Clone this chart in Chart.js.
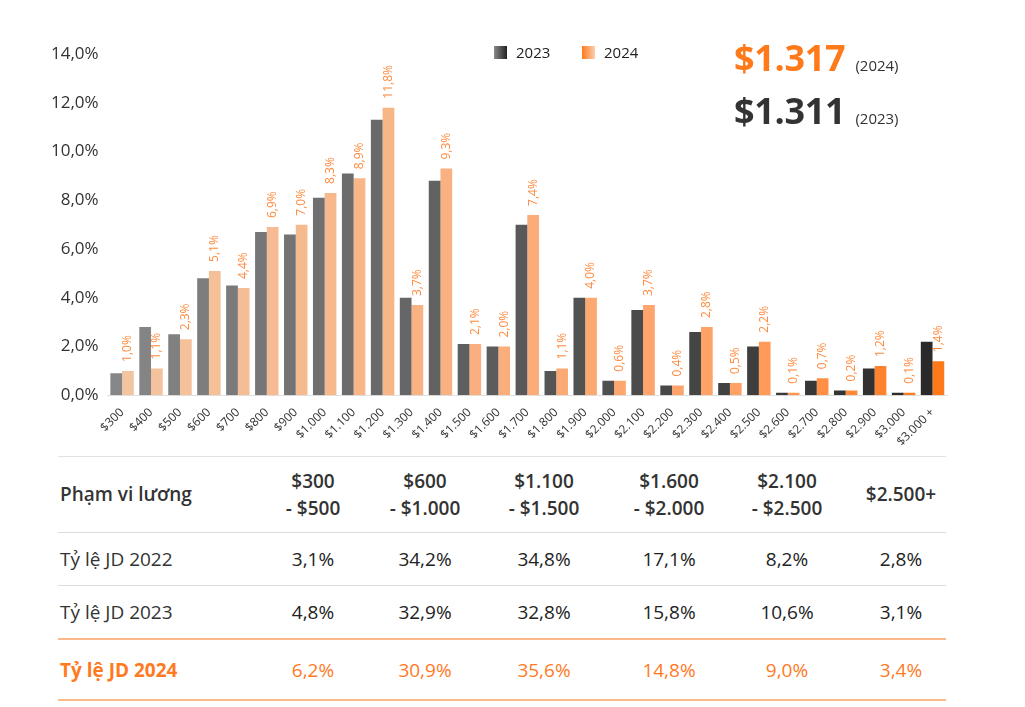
<!DOCTYPE html>
<html>
<head>
<meta charset="utf-8">
<script src="https://cdn.jsdelivr.net/npm/chart.js@4.4.1/dist/chart.umd.min.js"></script>
<style>
  body { margin: 0; background: #fff; font-family: "Open Sans", Roboto, sans-serif; }
  #wrap { position: relative; width: 1025px; height: 707px; overflow: hidden; }
  #chartBox { position: absolute; left: 0; top: 0; width: 1025px; height: 451px; }
  .legend { position: absolute; top: 42px; font-size: 15px; color: #222; display: flex; align-items: center; }
  .legend i { display: inline-block; width: 13px; height: 13px; margin-right: 9px; }
  .big { position: absolute; left: 734px; font-weight: 700; font-size: 36px; letter-spacing: -0.3px; }
  .big span { font-size: 15px; font-weight: 400; color: #333; margin-left: 10px; letter-spacing: 0; }
  table { position: absolute; left: 58px; top: 456px; width: 888px; border-collapse: collapse; font-size: 19px; color: #222; table-layout: fixed; }
  td, th { padding: 0; text-align: center; }
  th { font-weight: 600; height: 75px; border-top: 1px solid #e2e2e2; border-bottom: 1px solid #dcdcdc; line-height: 27px; color: #333; }
  th:first-child, td:first-child { text-align: left; padding-left: 2px; }
  th:last-child, td:last-child { padding-left: 14px; }
  tr.r td { height: 52px; border-bottom: 1px solid #dcdcdc; }
  tr.r td:first-child { color: #333; }
  tr.r2 td { border-bottom: 2px solid #fbb98a; }
  tr.hi td { height: 59px; color: #ff7a1f; border-bottom: 2px solid #fbb98a; }
  tr.hi td:first-child { font-weight: 700; }
</style>
</head>
<body>
<div id="wrap">
  <div id="chartBox"><canvas id="salary"></canvas></div>
  <div class="legend" style="left:494px"><i style="background:linear-gradient(90deg,#8a8a8a,#222)"></i>2023</div>
  <div class="legend" style="left:582px"><i style="background:linear-gradient(90deg,#ff7a1a,#fbd0b0)"></i>2024</div>
  <div class="big" style="top:33px;color:#ff7a1a">$1.317<span>(2024)</span></div>
  <div class="big" style="top:86px;color:#333">$1.311<span>(2023)</span></div>
  <table id="tbl">
    <colgroup><col style="width:200px"><col style="width:110px"><col style="width:114px"><col style="width:124px"><col style="width:126px"><col style="width:110px"><col style="width:104px"></colgroup>
  </table>
</div>
<script>
// Dữ liệu biểu đồ
const categories = ["$300", "$400", "$500", "$600", "$700", "$800", "$900", "$1.000", "$1.100", "$1.200",
  "$1.300", "$1.400", "$1.500", "$1.600", "$1.700", "$1.800", "$1.900", "$2.000", "$2.100", "$2.200",
  "$2.300", "$2.400", "$2.500", "$2.600", "$2.700", "$2.800", "$2.900", "$3.000", "$3.000 +"];
const jd2023 = [0.9, 2.8, 2.5, 4.8, 4.5, 6.7, 6.6, 8.1, 9.1, 11.3,
  4.0, 8.8, 2.1, 2.0, 7.0, 1.0, 4.0, 0.6, 3.5, 0.4,
  2.6, 0.5, 2.0, 0.1, 0.6, 0.2, 1.1, 0.1, 2.2];
const jd2024 = [1.0, 1.1, 2.3, 5.1, 4.4, 6.9, 7.0, 8.3, 8.9, 11.8,
  3.7, 9.3, 2.1, 2.0, 7.4, 1.1, 4.0, 0.6, 3.7, 0.4,
  2.8, 0.5, 2.2, 0.1, 0.7, 0.2, 1.2, 0.1, 1.4];
const yTicks = [0, 2, 4, 6, 8, 10, 12, 14];

// Bảng tổng hợp
const tableHeader = ["Phạm vi lương", "$300<br>- $500", "$600<br>- $1.000", "$1.100<br>- $1.500",
  "$1.600<br>- $2.000", "$2.100<br>- $2.500", "$2.500+"];
const rowLabels = ["Tỷ lệ JD 2022", "Tỷ lệ JD 2023", "Tỷ lệ JD 2024"];
const row2022 = ["3,1%", "34,2%", "34,8%", "17,1%", "8,2%", "2,8%"];
const row2023 = ["4,8%", "32,9%", "32,8%", "15,8%", "10,6%", "3,1%"];
const row2024 = ["6,2%", "30,9%", "35,6%", "14,8%", "9,0%", "3,4%"];

const tbl = document.getElementById("tbl");
let html = "<tr>" + tableHeader.map(h => "<th>" + h + "</th>").join("") + "</tr>";
[row2022, row2023, row2024].forEach((row, i) => {
  const cls = i === 2 ? "hi" : (i === 1 ? "r r2" : "r");
  html += '<tr class="' + cls + '"><td>' + rowLabels[i] + "</td>" + row.map(v => "<td>" + v + "</td>").join("") + "</tr>";
});
tbl.insertAdjacentHTML("beforeend", html);

// Màu chuyển dần từ trái sang phải
function mix(a, b, t) {
  const r = Math.round(a[0] + (b[0] - a[0]) * t);
  const g = Math.round(a[1] + (b[1] - a[1]) * t);
  const bl = Math.round(a[2] + (b[2] - a[2]) * t);
  return "rgb(" + r + "," + g + "," + bl + ")";
}
const n = categories.length;
const colors2023 = categories.map((c, i) => mix([135, 135, 135], [42, 42, 42], i / (n - 1)));
const colors2024 = categories.map((c, i) => {
  const t = i / (n - 1);
  return t < 0.75 ? mix([243, 196, 160], [255, 160, 100], t / 0.75) : mix([255, 160, 100], [255, 120, 25], (t - 0.75) / 0.25);
});

const fmt = v => v.toFixed(1).replace(".", ",") + "%";

// Nhãn dữ liệu xoay dọc cho 2024
const barLabels = {
  id: "barLabels",
  afterDatasetsDraw(chart) {
    const ctx = chart.ctx;
    const meta = chart.getDatasetMeta(1);
    ctx.save();
    ctx.font = "12px 'Open Sans', sans-serif";
    ctx.fillStyle = "#ff8a3d";
    ctx.textAlign = "left";
    ctx.textBaseline = "middle";
    meta.data.forEach((bar, i) => {
      ctx.save();
      ctx.translate(bar.x, bar.y - 9);
      ctx.rotate(-Math.PI / 2);
      ctx.fillText(fmt(jd2024[i]), 0, 0);
      ctx.restore();
    });
    ctx.restore();
  }
};

new Chart(document.getElementById("salary"), {
  type: "bar",
  data: {
    labels: categories,
    datasets: [
      { label: "2023", data: jd2023, backgroundColor: colors2023, categoryPercentage: 0.81, barPercentage: 1 },
      { label: "2024", data: jd2024, backgroundColor: colors2024, categoryPercentage: 0.81, barPercentage: 1 }
    ]
  },
  options: {
    responsive: true,
    maintainAspectRatio: false,
    animation: false,
    layout: { padding: { left: 50, right: 78, top: 54, bottom: 0 } },
    plugins: { legend: { display: false }, tooltip: { enabled: false } },
    scales: {
      x: {
        grid: { display: false },
        border: { color: "#e0e0e0" },
        ticks: { color: "#333", font: { size: 12, family: "Open Sans" }, minRotation: 45, maxRotation: 45, autoSkip: false, padding: 2 }
      },
      y: {
        min: 0, max: 14,
        grid: { display: false },
        border: { display: false },
        afterBuildTicks: axis => { axis.ticks = yTicks.map(v => ({ value: v })); },
        ticks: { color: "#333", font: { size: 17, family: "Open Sans" }, callback: v => fmt(v), padding: 1 }
      }
    }
  },
  plugins: [barLabels]
});
</script>
</body>
</html>
